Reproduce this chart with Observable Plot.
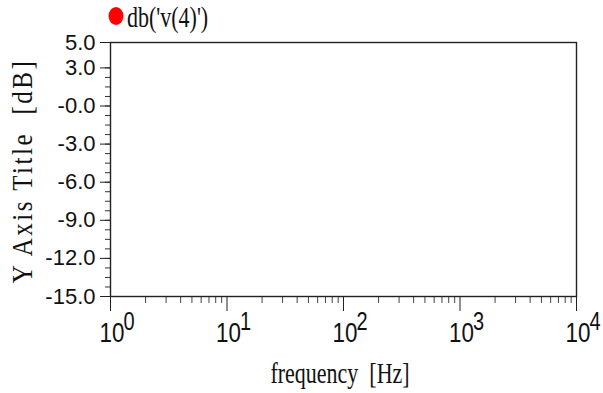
<!DOCTYPE html>
<html>
<head>
<meta charset="utf-8">
<script src="https://cdn.jsdelivr.net/npm/d3@7"></script>
<script src="https://cdn.jsdelivr.net/npm/@observablehq/plot@0.6"></script>
<style>
  html, body { margin: 0; padding: 0; background: #fff; }
  #wrap { position: relative; width: 603px; height: 393px; overflow: hidden; }
  #legend { position: absolute; left: 0; top: 0; }
</style>
</head>
<body>
<div id="wrap">
  <div id="chart"></div>
  <svg id="legend" width="603" height="40"></svg>
</div>
<script>
// ---- data (the trace shown in the reference is empty) ----
const seriesName = "db('v(4)')";
const seriesColor = "#ff0000";
const frequency = [];
const magnitudeDb = [];

// ---- axes ----
const xDecades = [1, 10, 100, 1000, 10000];
const xExponents = ["0", "1", "2", "3", "4"];
const xMinor = [];
for (const d of xDecades.slice(0, -1)) for (let m = 2; m <= 9; m++) xMinor.push(d * m);

const yMajor = [5, 3, 0, -3, -6, -9, -12, -15];
const yLabels = ["5.0", "3.0", "-0.0", "-3.0", "-6.0", "-9.0", "-12.0", "-15.0"];
const yMinor = [];
for (let k = 0; k <= 24; k++) yMinor.push(-15 + 0.75 * k);

const xTitle = "frequency  [Hz]";
const yTitle = "Y Axis Title  [dB]";

const rows = frequency.map((f, i) => ({frequency: f, db: magnitudeDb[i]}));

const sans = "'Liberation Sans', Arial, sans-serif";
const serif = "'Liberation Serif', 'Times New Roman', serif";

const chart = Plot.plot({
  width: 603,
  height: 393,
  marginLeft: 110,
  marginRight: 27,
  marginTop: 42,
  marginBottom: 97,
  style: {background: "white", color: "#222", overflow: "visible"},
  x: {type: "log", domain: [1, 10000]},
  y: {domain: [-15, 5]},
  marks: [
    Plot.axisY({ticks: yMinor, tickSize: 5, tickFormat: () => "", label: null, stroke: "#333"}),
    Plot.axisY({ticks: yMajor, tickSize: 10, tickPadding: 5, label: null, stroke: "#222",
      tickFormat: d => yLabels[yMajor.indexOf(d)], fontSize: 22, fontFamily: sans, fill: "#111"}),
    Plot.axisX({ticks: xMinor, tickSize: 7, tickFormat: () => "", label: null, stroke: "#444"}),
    Plot.axisX({ticks: xDecades, tickSize: 15, tickFormat: () => "", label: null, stroke: "#222"}),
    Plot.text(xDecades, {x: d => d, text: () => "10", frameAnchor: "bottom", lineAnchor: "top",
      textAnchor: "start", dx: -11, dy: 26, fontSize: 28, fontFamily: sans, fill: "#111"}),
    Plot.text(xDecades, {x: d => d, text: (d, i) => xExponents[i], frameAnchor: "bottom", lineAnchor: "top",
      textAnchor: "start", dx: 13, dy: 16, fontSize: 25, fontFamily: sans, fill: "#111"}),
    Plot.frame({stroke: "#222", strokeWidth: 1.4}),
    Plot.line(rows, {x: "frequency", y: "db", stroke: seriesColor, strokeWidth: 1.5})
  ]
});
document.getElementById("chart").appendChild(chart);

const svg = d3.select(chart);
// condense the decade tick labels horizontally (narrow face as in the reference)
svg.selectAll('g[aria-label="text"] text').each(function () {
  const t = this.getAttribute("transform") || "";
  this.setAttribute("transform", t + " scale(0.8,1)");
});

// axis titles (serif, vertically stretched as in the reference)
svg.append("text")
  .attr("transform", "translate(340,383) scale(1,1.33)")
  .attr("text-anchor", "middle")
  .attr("font-family", serif)
  .attr("font-size", 22)
  .attr("fill", "#111")
  .style("white-space", "pre")
  .text(xTitle);
svg.append("text")
  .attr("transform", "translate(32,171) rotate(-90) scale(1,1.15)")
  .attr("text-anchor", "middle")
  .attr("font-family", serif)
  .attr("font-size", 25)
  .attr("letter-spacing", "2.5px")
  .attr("fill", "#111")
  .style("white-space", "pre")
  .text(yTitle);

// legend
const leg = d3.select("#legend");
leg.append("ellipse").attr("cx", 116).attr("cy", 16).attr("rx", 7.5).attr("ry", 9).attr("fill", seriesColor);
leg.append("text")
  .attr("transform", "translate(127,27) scale(1,1.3)")
  .attr("font-family", serif)
  .attr("font-size", 22)
  .attr("fill", "#111")
  .text(seriesName);
</script>
</body>
</html>
